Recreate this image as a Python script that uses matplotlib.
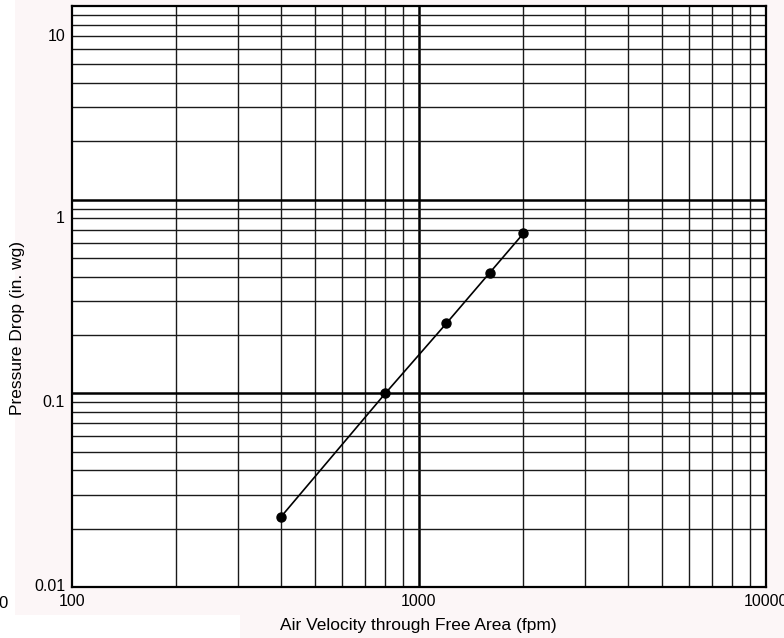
import matplotlib.pyplot as plt
from matplotlib.patches import Rectangle
from matplotlib.ticker import FixedLocator, NullFormatter

plt.rcParams['font.family'] = ['Liberation Sans', 'DejaVu Sans']

# data
velocity = [400, 800, 1200, 1600, 2000]
pressure = [0.023, 0.10, 0.23, 0.42, 0.67]

x_ticks = [100, 1000, 10000]
x_labels = ['100', '1000', '10000']
# the y labels in the original sit a little below their gridlines
y_tick_pos = [0.0103, 0.091, 0.81, 7.1]
y_labels = ['0.01', '0.1', '1', '10']

x_minor = [m * d for d in (100, 1000) for m in range(2, 10)]
y_minor = [m * d for d in (0.01, 0.1, 1) for m in range(2, 10)]
x_major_grid = [1000]
y_major_grid = [0.1, 1]

fig = plt.figure(figsize=(7.84, 6.38), dpi=100, facecolor='white')
# faint pink page behind the chart
fig.patches.append(Rectangle((15 / 784, 23 / 638), 1, 1, transform=fig.transFigure,
                             facecolor='#fcf6f7', edgecolor='none', zorder=-10))
fig.patches.append(Rectangle((240 / 784, 0), 1, 24 / 638, transform=fig.transFigure,
                             facecolor='#fcf6f7', edgecolor='none', zorder=-10))

ax = fig.add_axes([72 / 784, 1 - 587 / 638, 694 / 784, 581 / 638])
ax.set_facecolor('white')
ax.set_xscale('log')
ax.set_yscale('log')
ax.set_xlim(100, 10000)
ax.set_ylim(0.01, 10)

# grid
for v in x_minor:
    ax.axvline(v, color='#1a1a1a', lw=1.0, zorder=1)
for v in x_major_grid:
    ax.axvline(v, color='black', lw=1.8, zorder=1)
for v in y_minor:
    ax.axhline(v, color='#1a1a1a', lw=1.0, zorder=1)
for v in y_major_grid:
    ax.axhline(v, color='black', lw=1.8, zorder=1)

ax.plot(velocity, pressure, color='black', lw=1.2, marker='o', markersize=6.5, zorder=3)

ax.xaxis.set_major_locator(FixedLocator(x_ticks))
ax.set_xticklabels(x_labels)
ax.xaxis.set_minor_formatter(NullFormatter())
ax.yaxis.set_major_locator(FixedLocator(y_tick_pos))
ax.set_yticklabels(y_labels)
ax.yaxis.set_minor_formatter(NullFormatter())
ax.tick_params(which='both', length=0, labelsize=11.5, colors='black')
ax.tick_params(axis='y', pad=5)
ax.tick_params(axis='x', pad=5)

for s in ax.spines.values():
    s.set_color('black')
    s.set_linewidth(1.6)

ax.set_xlabel('Air Velocity through Free Area (fpm)', fontsize=12.5)
ax.xaxis.label.set_va('center')
ax.xaxis.set_label_coords(0.4986, -0.067)
ax.set_ylabel('Pressure Drop (in. wg)', fontsize=12.5)
ax.yaxis.label.set_va('center')
ax.yaxis.set_label_coords(-0.078, 0.446)

# cut-off character at the left edge of the original
fig.text(7.5 / 784, 1 - 603 / 638, '0', ha='right', va='center', fontsize=12)

fig.savefig('out.png', dpi=100, facecolor=fig.get_facecolor())
